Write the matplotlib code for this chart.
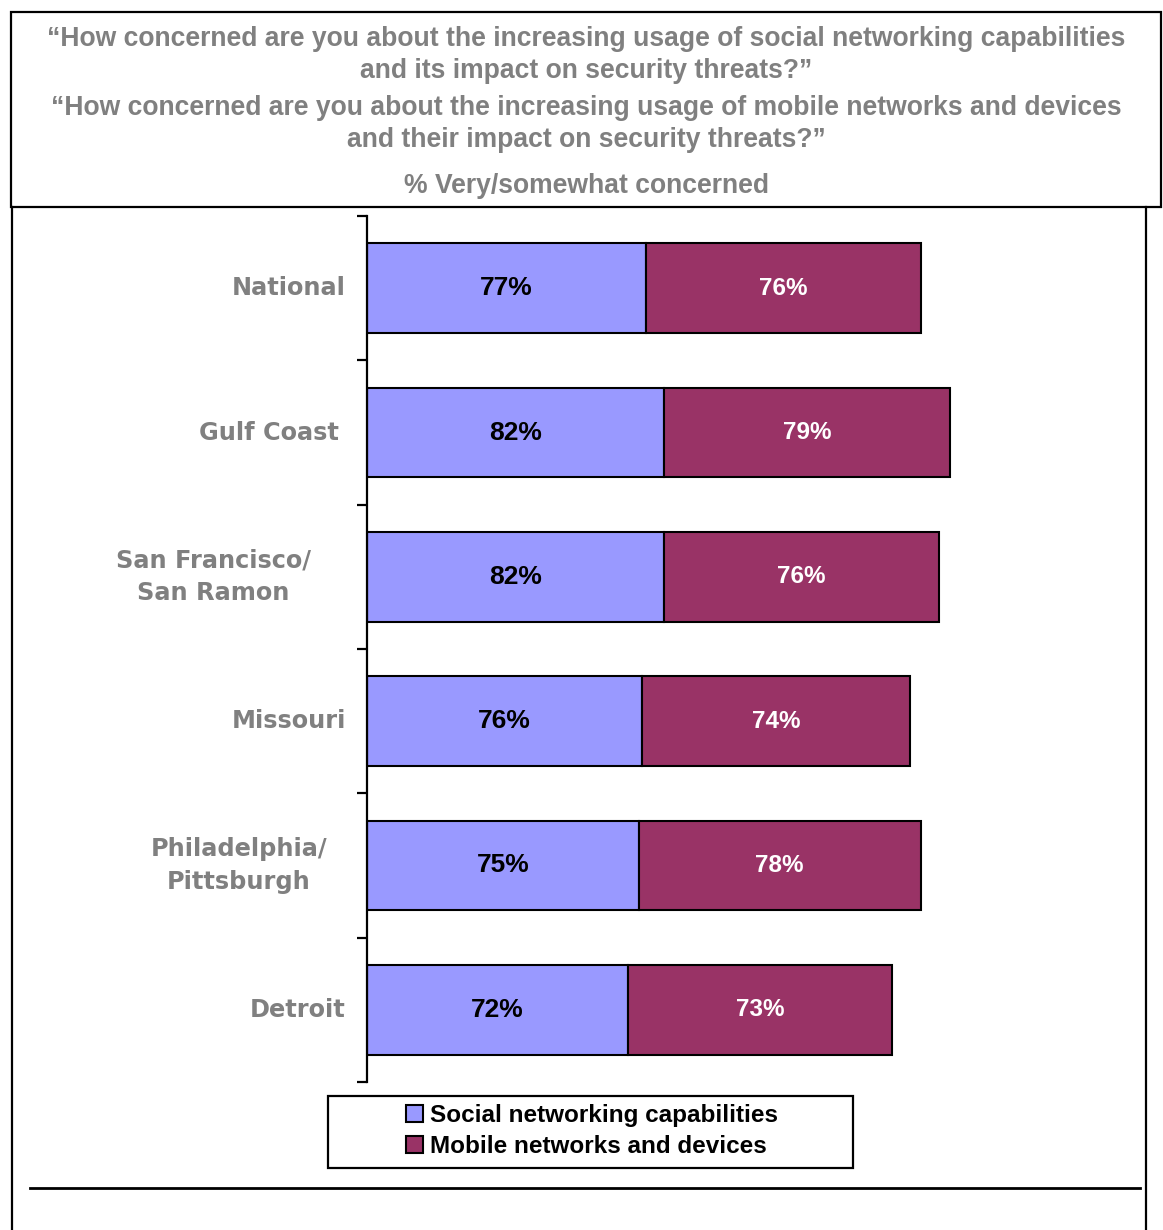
import matplotlib
matplotlib.use("Agg")
import matplotlib.pyplot as plt
from matplotlib.patches import Rectangle, Patch
from matplotlib.lines import Line2D
import numpy as np

# survey results, % very/somewhat concerned
regions = ["National", "Gulf Coast", "San Francisco/\nSan Ramon", "Missouri",
           "Philadelphia/\nPittsburgh", "Detroit"]
social = [77, 82, 82, 76, 75, 72]
mobile = [76, 79, 76, 74, 78, 73]
series_names = ["Social networking capabilities", "Mobile networks and devices"]

question_social = ("\u201cHow concerned are you about the increasing usage of social networking capabilities\n"
                   "and its impact on security threats?\u201d")
question_mobile = ("\u201cHow concerned are you about the increasing usage of mobile networks and devices\n"
                   "and their impact on security threats?\u201d")
subtitle = "% Very/somewhat concerned"

BLUE = "#9999FF"
MAROON = "#993366"
GREY = "#808080"
W, H = 1163, 1230

fig = plt.figure(figsize=(W / 100, H / 100), dpi=100)

def fx(px):
    return px / W

def fy(py):
    return 1 - py / H

# frame around the question text and the chart panel
fig.add_artist(Rectangle((fx(11), fy(207)), fx(1161) - fx(11), fy(12) - fy(207),
                         transform=fig.transFigure, fill=False, lw=1.6, ec="black"))
fig.add_artist(Line2D([fx(12), fx(12)], [fy(207), 0], transform=fig.transFigure, lw=1.6, c="black"))
fig.add_artist(Line2D([fx(1146), fx(1146)], [fy(207), 0], transform=fig.transFigure, lw=1.6, c="black"))
fig.add_artist(Line2D([fx(30), fx(1140)], [fy(1188), fy(1188)], transform=fig.transFigure, lw=2, c="black"))

tfont = dict(family="Liberation Sans", weight="bold", color=GREY, fontsize=19.1,
             ha="center", va="center", linespacing=1.3)
fig.text(fx(586), fy(55), question_social, **tfont)
fig.text(fx(586), fy(124), question_mobile, **tfont)
fig.text(fx(586), fy(186), subtitle, **tfont)

# bar panel
ax = fig.add_axes([fx(367), fy(1082), 3.62 * 200 / W, fy(216) - fy(1082)])
y = np.arange(len(regions))
bar_h = 0.62
ax.barh(y, social, height=bar_h, color=BLUE, edgecolor="black", lw=1.5)
ax.barh(y, mobile, left=social, height=bar_h, color=MAROON, edgecolor="black", lw=1.5)

for i in range(len(regions)):
    ax.text(social[i] / 2, y[i], f"{social[i]}%", ha="center", va="center",
            family="Liberation Sans", weight="bold", fontsize=19, color="black")
    ax.text(social[i] + mobile[i] / 2, y[i], f"{mobile[i]}%", ha="center", va="center",
            family="Liberation Sans", weight="bold", fontsize=17.5, color="white")

# category names sit between the boundary ticks
label_pad = [21, 28, 56, 21, 40, 21]
for i, name in enumerate(regions):
    ax.annotate(name, xy=(0, y[i]), xycoords=("axes fraction", "data"),
                xytext=(-label_pad[i] * 0.72, 0), textcoords="offset points",
                ha="right", va="center", multialignment="center", linespacing=1.45,
                family="DejaVu Sans", weight="bold", fontsize=17.3, color=GREY)

ax.set_xlim(0, 200)
ax.set_ylim(len(regions) - 0.5, -0.5)
ax.set_yticks(np.arange(len(regions) + 1) - 0.5)
ax.set_yticklabels([])
ax.tick_params(axis="y", length=7, width=1.6, direction="out")
ax.set_xticks([])
for s in ["top", "right", "bottom"]:
    ax.spines[s].set_visible(False)
ax.spines["left"].set_linewidth(1.6)

# legend: wide box with the entries centred inside
fig.add_artist(Rectangle((fx(328), fy(1168)), fx(853) - fx(328), fy(1096) - fy(1168),
                         transform=fig.transFigure, fill=False, lw=1.6, ec="black"))
handles = [Patch(facecolor=BLUE, edgecolor="black", lw=1.5),
           Patch(facecolor=MAROON, edgecolor="black", lw=1.5)]
leg = fig.legend(handles, series_names, loc="center", bbox_to_anchor=(fx(592), fy(1131)),
                 frameon=False, borderpad=0.0,
                 handlelength=0.7, handleheight=0.7, handletextpad=0.25, labelspacing=0.33,
                 prop=dict(family="Liberation Sans", weight="bold", size=17.5))

fig.savefig("out.png", dpi=100)
